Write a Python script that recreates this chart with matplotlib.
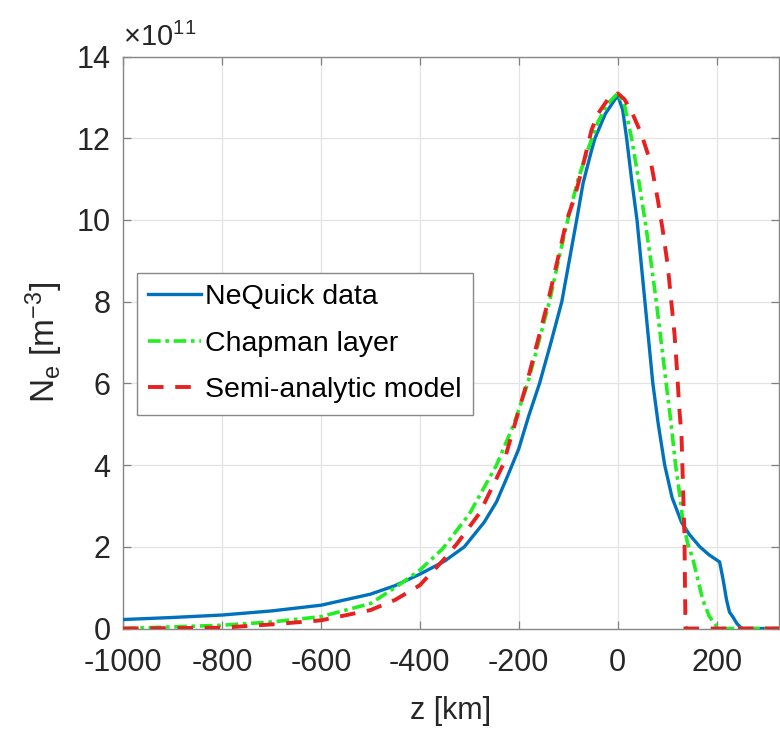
import matplotlib
matplotlib.use("Agg")
from matplotlib import pyplot as plt

plt.rcParams["font.family"] = ["Liberation Sans", "DejaVu Sans"]
plt.rcParams["mathtext.fontset"] = "custom"
plt.rcParams["mathtext.rm"] = "Liberation Sans"
plt.rcParams["mathtext.it"] = "Liberation Sans:italic"
plt.rcParams["axes.unicode_minus"] = False

# electron density in units of 1e11 m^-3
z_nequick = [-1000, -900, -800, -700, -600, -500, -450, -400, -350, -310, -270, -245,
             -222, -200, -180, -158, -135, -113, -95, -83, -70, -53, -46, -25, 0,
             10, 18, 28, 39, 47, 55, 63, 71, 82, 95, 110, 129, 145, 166, 185, 206,
             213, 220, 226, 233, 241, 251, 326]
ne_nequick = [0.22, 0.27, 0.33, 0.43, 0.57, 0.84, 1.05, 1.33, 1.65, 2.0, 2.6, 3.1,
              3.75, 4.4, 5.2, 6.0, 7.0, 8.0, 9.2, 10.0, 10.9, 11.7, 12.0, 12.6, 13.05,
              12.7, 12.0, 11.0, 10.0, 9.0, 8.0, 7.0, 6.0, 5.0, 4.0, 3.2, 2.6, 2.3, 2.0,
              1.8, 1.63, 1.2, 0.7, 0.4, 0.28, 0.12, 0.0, 0.0]

z_chapman = [-1000, -900, -800, -700, -600, -500, -450, -400, -354, -300, -245, -210,
             -182, -160, -138, -120, -101, -80, -61, -40, -20, 0, 14, 28, 42, 55, 67,
             78, 88, 98, 108, 117, 125, 131, 141, 152, 162, 172, 185, 200, 210, 326]
ne_chapman = [0.0, 0.04, 0.08, 0.16, 0.29, 0.61, 1.0, 1.43, 1.95, 2.8, 4.0, 5.0,
              6.0, 7.0, 8.0, 9.0, 10.0, 11.0, 11.7, 12.4, 12.85, 13.1, 12.8, 12.0, 11.0,
              10.0, 9.0, 8.0, 7.0, 6.0, 5.0, 4.0, 3.3, 2.7, 2.1, 1.7, 1.2, 0.7, 0.3,
              0.05, 0.0, 0.0]

z_semi = [-1000, -900, -800, -700, -600, -500, -450, -400, -350, -324, -279, -232,
          -184, -141, -103, -87, -71, -53, -40, -20, 0, 14, 30, 48, 68, 81, 91, 101, 108,
          115, 120, 124, 129, 131, 133, 135, 136, 137, 326]
ne_semi = [0.0, 0.01, 0.02, 0.1, 0.2, 0.45, 0.7, 1.06, 1.71, 2.09, 2.83, 4.0,
           6.0, 8.0, 10.0, 10.56, 11.3, 12.2, 12.6, 12.95, 13.1, 12.95, 12.6, 12.1, 11.35,
           10.5, 9.75, 8.9, 8.04, 7.18, 6.3, 5.47, 4.7, 3.88, 3.07, 2.24, 1.0, 0.0, 0.0]

x_ticks = [-1000, -800, -600, -400, -200, 0, 200]
y_ticks = [0, 2, 4, 6, 8, 10, 12, 14]

fig = plt.figure(figsize=(7.8, 7.31), dpi=100)
ax = fig.add_axes([0.1577, 0.1402, 0.841, 0.7824])

ax.plot(z_nequick, ne_nequick, color="#0072BD", lw=2.4, label="NeQuick data", zorder=3)
ax.plot(z_chapman, ne_chapman, color="#22EE22", lw=2.6,
        linestyle=(0, (3.5, 1.3, 1, 1.3)), label="Chapman layer", zorder=4)
ax.plot(z_semi, ne_semi, color="#E82020", lw=2.8,
        linestyle=(0, (4, 3)), label="Semi-analytic model", zorder=5)

ax.set_xlim(-1000, 326)
ax.set_ylim(0, 14)
ax.set_xticks(x_ticks)
ax.set_yticks(y_ticks)
ax.grid(True, color="#e3e3e3", lw=0.9)
ax.set_axisbelow(True)
ax.tick_params(direction="in", length=6, width=0.9, color="#808080",
               labelsize=22, labelcolor="#262626", top=True, right=True)
ax.tick_params(axis="x", pad=14)
ax.tick_params(axis="y", pad=9)
for sp in ax.spines.values():
    sp.set_color("#888888")
    sp.set_linewidth(1.0)

ax.set_xlabel("z [km]", fontsize=22, color="#262626", labelpad=13)
ax.set_ylabel(r"N$_\mathrm{e}$ [m$^{-3}$]", fontsize=24, color="#262626", labelpad=8)
ax.text(0.0, 1.008, r"$\times$10$^{11}$", transform=ax.transAxes, fontsize=21,
        color="#262626", ha="left", va="bottom")

leg = ax.legend(loc="upper left", bbox_to_anchor=(137 / 780, 1 - 273 / 731),
                bbox_transform=fig.transFigure, borderaxespad=0, fontsize=20.5,
                fancybox=False, framealpha=1, edgecolor="#888888",
                handlelength=1.85, handletextpad=0.15, labelspacing=0.72,
                borderpad=0.4)
leg.get_frame().set_linewidth(1.0)

fig.savefig("out.png", dpi=100)
